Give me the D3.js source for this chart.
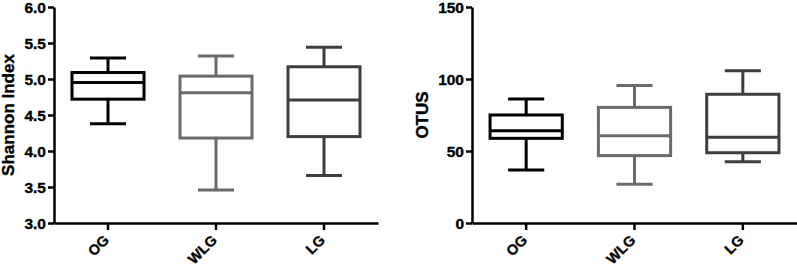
<!DOCTYPE html>
<html>
<head>
<meta charset="utf-8">
<title>Box plots</title>
<style>
  body { margin: 0; background: #fff; }
  text { font-family: "Liberation Sans", Arial, sans-serif; font-weight: bold; fill: #000; stroke: #000; stroke-width: 0.35px; }
  .axis path, .axis line { stroke: #000; stroke-width: 2.5; }
  .axis text { font-size: 15.5px; }
</style>
<script src="https://d3js.org/d3.v7.min.js"></script>
</head>
<body>
<div id="chart"></div>
<script>
// data
var groups = ["OG", "WLG", "LG"];
var colors = ["#000000", "#6a6a6a", "#3e3e3e"];

// [whisker low, q1, median, q3, whisker high]
var shannon = [
  [4.38, 4.72, 4.95, 5.09, 5.29],
  [3.46, 4.18, 4.81, 5.04, 5.32],
  [3.66, 4.20, 4.71, 5.17, 5.44]
];
var shannonTicks = [3.0, 3.5, 4.0, 4.5, 5.0, 5.5, 6.0];

var otus = [
  [36.8, 58.8, 64.1, 75.0, 86.1],
  [26.9, 46.8, 60.6, 80.3, 95.4],
  [42.6, 48.8, 59.5, 89.4, 105.8]
];
var otusTicks = [0, 50, 100, 150];

var svg = d3.select("#chart").append("svg")
  .attr("width", 797)
  .attr("height", 266);

function panel(left, right, values, ticks, fmt, title, titleX) {
  var top = 7, bottom = 223;
  var x = d3.scaleBand().domain(groups).range([left, right]);
  var y = d3.scaleLinear()
    .domain([ticks[0], ticks[ticks.length - 1]])
    .range([bottom, top]);

  var g = svg.append("g");

  // y axis
  g.append("g")
    .attr("class", "axis")
    .attr("transform", "translate(" + left + ",0)")
    .call(d3.axisLeft(y).tickValues(ticks).tickFormat(fmt).tickSize(6).tickSizeOuter(0).tickPadding(2))
    .selectAll("text").attr("dy", "0.36em");

  // x axis, labels drawn separately so they can be rotated
  g.append("g")
    .attr("class", "axis")
    .attr("transform", "translate(0," + bottom + ")")
    .call(d3.axisBottom(x).tickSize(7).tickSizeOuter(0).tickFormat(""));

  function cx(i) { return x(groups[i]) + x.bandwidth() / 2; }

  g.selectAll(".xlabel")
    .data(groups)
    .enter().append("text")
    .attr("class", "xlabel")
    .attr("transform", function(d, i) {
      return "translate(" + (cx(i) + 2) + "," + (bottom + 18) + ") rotate(-45)";
    })
    .attr("text-anchor", "end")
    .attr("font-size", "14.5px")
    .text(function(d) { return d; });

  // axis title
  g.append("text")
    .attr("transform", "translate(" + titleX + "," + ((top + bottom) / 2) + ") rotate(-90)")
    .attr("text-anchor", "middle")
    .attr("dy", "0.35em")
    .attr("font-size", "17px")
    .text(title);

  // boxes
  var bw = x.bandwidth() * 2 / 3;
  var cw = bw / 2;
  var boxes = g.selectAll(".box")
    .data(values)
    .enter().append("g")
    .attr("class", "box")
    .attr("stroke", function(d, i) { return colors[i]; })
    .attr("stroke-width", 3)
    .attr("fill", "none");

  // whiskers
  boxes.append("line")
    .attr("x1", function(d, i) { return cx(i); })
    .attr("x2", function(d, i) { return cx(i); })
    .attr("y1", function(d) { return y(d[0]); })
    .attr("y2", function(d) { return y(d[1]); });
  boxes.append("line")
    .attr("x1", function(d, i) { return cx(i); })
    .attr("x2", function(d, i) { return cx(i); })
    .attr("y1", function(d) { return y(d[3]); })
    .attr("y2", function(d) { return y(d[4]); });
  // caps
  [0, 4].forEach(function(k) {
    boxes.append("line")
      .attr("x1", function(d, i) { return cx(i) - cw / 2; })
      .attr("x2", function(d, i) { return cx(i) + cw / 2; })
      .attr("y1", function(d) { return y(d[k]); })
      .attr("y2", function(d) { return y(d[k]); });
  });
  // box
  boxes.append("rect")
    .attr("x", function(d, i) { return cx(i) - bw / 2; })
    .attr("width", bw)
    .attr("y", function(d) { return y(d[3]); })
    .attr("height", function(d) { return y(d[1]) - y(d[3]); })
    .attr("fill", "#fff");
  // median
  boxes.append("line")
    .attr("x1", function(d, i) { return cx(i) - bw / 2; })
    .attr("x2", function(d, i) { return cx(i) + bw / 2; })
    .attr("y1", function(d) { return y(d[2]); })
    .attr("y2", function(d) { return y(d[2]); });
}

panel(54, 378, shannon, shannonTicks, d3.format(".1f"), "Shannon Index", 8);
panel(472, 797, otus, otusTicks, d3.format("d"), "OTUS", 422);
</script>
</body>
</html>
